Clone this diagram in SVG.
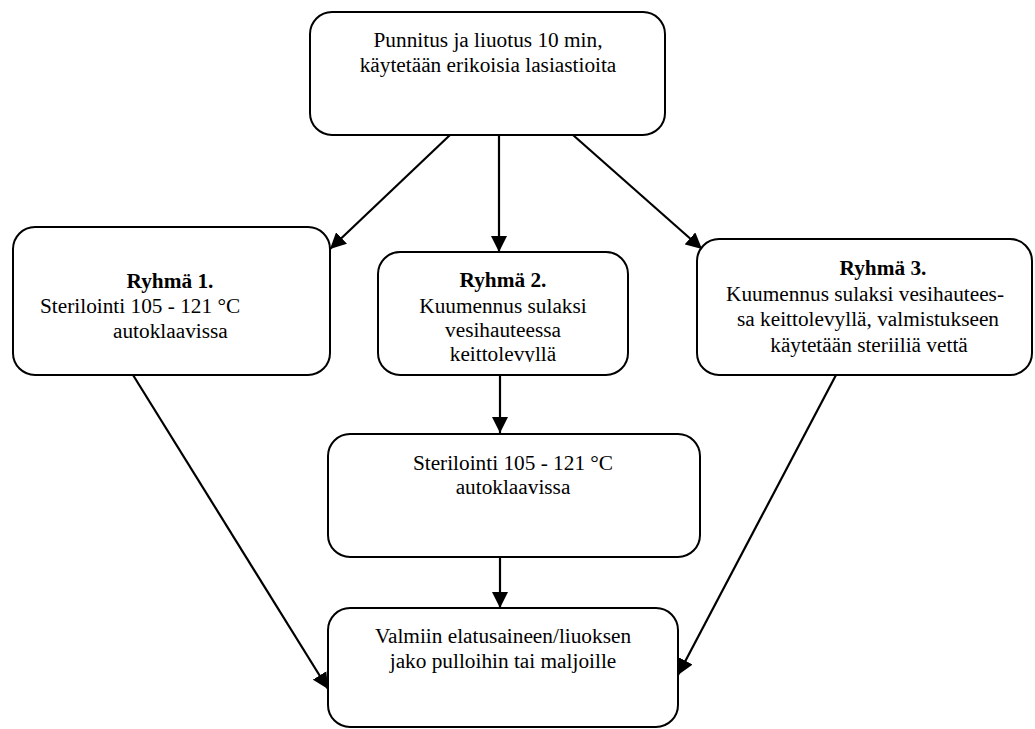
<svg xmlns="http://www.w3.org/2000/svg" width="1035" height="729" viewBox="0 0 1035 729">
<style>
.box{fill:#fff;stroke:#000;stroke-width:2}
.t{font-family:"Liberation Serif","Times New Roman",serif;font-size:21.3px;fill:#000}
.c{text-anchor:middle}
.b{font-weight:bold}
.con{stroke:#000;stroke-width:2.2;fill:none;marker-end:url(#ah)}
</style>
<defs>
<marker id="ah" markerUnits="userSpaceOnUse" markerWidth="17" markerHeight="16" refX="16" refY="8" orient="auto">
<path d="M0,0 L16,8 L0,16 z" fill="#000"/>
</marker>
<clipPath id="clip2"><rect x="378" y="252" width="250" height="110"/></clipPath>
</defs>
<rect width="1035" height="729" fill="#fff"/>
<g id="connectors">
<line class="con" x1="450" y1="135" x2="330" y2="249"/>
<line class="con" x1="499" y1="135" x2="499" y2="252"/>
<line class="con" x1="573" y1="135" x2="702" y2="249"/>
<line class="con" x1="500" y1="375" x2="500" y2="433"/>
<line class="con" x1="500" y1="557" x2="500" y2="608"/>
<line class="con" x1="133" y1="375" x2="328" y2="689"/>
<line class="con" x1="836" y1="375" x2="678" y2="675"/>
</g>
<g id="n-top">
<rect class="box" x="310" y="12" width="355" height="123" rx="22"/>
<text class="t c" x="488" y="47">Punnitus ja liuotus 10 min,</text>
<text class="t c" x="488" y="72">käytetään erikoisia lasiastioita</text>
</g>
<g id="n-ryhma1">
<rect class="box" x="13" y="227" width="317" height="148" rx="22"/>
<text class="t c b" x="170" y="288">Ryhmä 1.</text>
<text class="t" x="40" y="313">Sterilointi 105 - 121 °C</text>
<text class="t" x="113" y="338">autoklaavissa</text>
</g>
<g id="n-ryhma2">
<rect class="box" x="378" y="252" width="250" height="123" rx="22"/>
<g clip-path="url(#clip2)">
<text class="t c b" x="503" y="287">Ryhmä 2.</text>
<text class="t c" x="503" y="313">Kuumennus sulaksi</text>
<text class="t c" x="503" y="337">vesihauteessa</text>
<text class="t c" x="503" y="361">keittolevyllä</text>
</g>
</g>
<g id="n-ryhma3">
<rect class="box" x="697" y="239" width="335" height="136" rx="22"/>
<text class="t c b" x="883" y="275">Ryhmä 3.</text>
<text class="t c" x="865" y="301">Kuumennus sulaksi vesihautees-</text>
<text class="t c" x="868" y="326">sa keittolevyllä, valmistukseen</text>
<text class="t c" x="869" y="352">käytetään steriiliä vettä</text>
</g>
<g id="n-sterilointi">
<rect class="box" x="328" y="434" width="372" height="123" rx="22"/>
<text class="t c" x="513" y="470">Sterilointi 105 - 121 °C</text>
<text class="t c" x="513" y="494">autoklaavissa</text>
</g>
<g id="n-jako">
<rect class="box" x="328" y="608" width="350" height="119" rx="22"/>
<text class="t c" x="503" y="643">Valmiin elatusaineen/liuoksen</text>
<text class="t c" x="503" y="668">jako pulloihin tai maljoille</text>
</g>
</svg>
